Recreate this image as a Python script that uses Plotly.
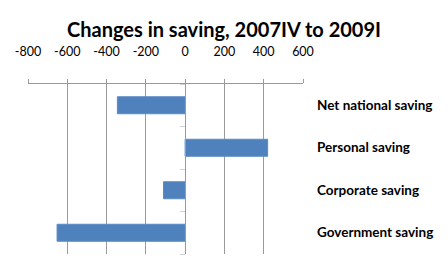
import plotly.graph_objects as go

categories = ["Net national saving", "Personal saving", "Corporate saving", "Government saving"]
values = [-345, 420, -110, -652]
x_ticks = [-800, -600, -400, -200, 0, 200, 400, 600]

bar_color = "#4f81bd"
grid_color = "#9a9a9a"
font_family = "Lato, 'Open Sans', sans-serif"

fig = go.Figure()
fig.add_trace(go.Bar(
    y=categories, x=values, orientation="h",
    marker=dict(color=bar_color, line=dict(color="#5a8ac6", width=1)),
    width=0.4, showlegend=False, hoverinfo="skip",
))
# invisible trace to carry the y-axis drawn at x = 0
fig.add_trace(go.Scatter(x=[0], y=[1.5], yaxis="y2", mode="markers",
                         marker=dict(opacity=0), showlegend=False, hoverinfo="skip"))

zero_pos = (0 - x_ticks[0]) / (x_ticks[-1] - x_ticks[0])

fig.update_layout(
    width=448, height=269,
    margin=dict(l=28, r=145, t=84, b=15),
    paper_bgcolor="white", plot_bgcolor="white",
    font=dict(family=font_family, color="#000000"),
    title=dict(text="<b>Changes in saving, 2007IV to 2009I</b>", x=0.5, xanchor="center",
               xref="container", yref="container",
               y=1 - 30 / 269, yanchor="middle",
               font=dict(size=20, family=font_family, color="#000000")),
    xaxis=dict(
        side="top", range=[x_ticks[0], x_ticks[-1]], tickvals=x_ticks,
        ticktext=[str(v) for v in x_ticks],
        showgrid=True, gridcolor=grid_color, gridwidth=1,
        zeroline=False, showline=True, linecolor=grid_color, linewidth=1,
        ticks="outside", ticklen=4, tickcolor=grid_color,
        ticklabelstandoff=18,
        tickfont=dict(size=12.5, family=font_family, color="#000000"),
        fixedrange=True,
    ),
    yaxis=dict(
        autorange="reversed", side="right", showgrid=False, zeroline=False,
        showline=False, ticks="", ticklabelstandoff=13,
        tickfont=dict(size=13.5, family=font_family, color="#000000", weight="bold"),
        fixedrange=True,
    ),
    yaxis2=dict(
        overlaying="y", anchor="free", position=zero_pos, side="left",
        range=[3.5, -0.5], tickvals=[-0.5, 0.5, 1.5, 2.5, 3.5],
        showticklabels=False, ticks="outside", ticklen=5, tickcolor="#d0d0d0",
        showline=True, linecolor=grid_color, linewidth=1, showgrid=False,
        zeroline=False, fixedrange=True,
    ),
)

fig.write_html("out.html")
